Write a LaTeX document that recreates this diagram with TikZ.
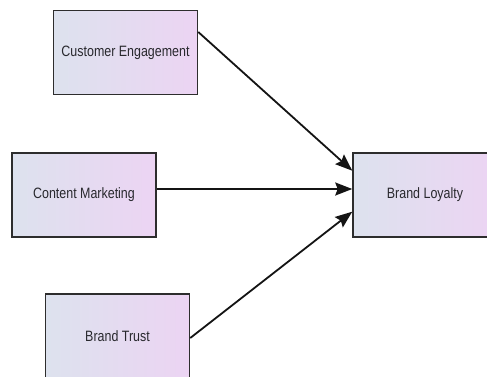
\documentclass[tikz,border=0pt]{standalone}
\usepackage{fontspec}
\setmainfont{Liberation Sans}
\usetikzlibrary{arrows.meta}

\definecolor{boxleft}{RGB}{221,226,238}
\definecolor{boxright}{RGB}{236,212,243}
\definecolor{boxedge}{RGB}{45,45,45}
\definecolor{labelgrey}{RGB}{40,40,45}
\definecolor{linkcol}{RGB}{20,20,20}

\newcommand{\boxlabel}[1]{\scalebox{0.83}[1]{#1}}

\tikzset{
  factor/.style={
    draw=boxedge, line width=1.5pt,
    left color=boxleft, right color=boxright,
    minimum width=144pt, minimum height=84pt, inner sep=0pt,
    font=\fontsize{15pt}{17pt}\selectfont, text=labelgrey
  },
  link/.style={
    draw=linkcol, line width=1.8pt,
    -{Stealth[length=17pt,width=13pt,inset=2.5pt]}
  }
}

\begin{document}
\begin{tikzpicture}[x=1pt,y=1pt]
  \useasboundingbox[fill=white] (0,0) rectangle (487,376);

  % source factors on the left
  \node[factor] (ce) at (125.5,323.5) {\boxlabel{Customer Engagement}};
  \node[factor] (cm) at (84,181)      {\boxlabel{Content Marketing}};
  \node[factor] (bt) at (117.5,40)    {\boxlabel{Brand Trust}};

  % outcome on the right
  \node[factor] (bl) at (425,181)     {\boxlabel{Brand Loyalty}};

  % influences
  \draw[link] ([yshift=20.5pt]ce.east) -- ([yshift=24.3pt]bl.west);
  \draw[link] ([yshift=6pt]cm.east)    -- ([yshift=6pt]bl.west);
  \draw[link] ([yshift=-2pt]bt.east)   -- ([yshift=-16.7pt]bl.west);
\end{tikzpicture}
\end{document}
